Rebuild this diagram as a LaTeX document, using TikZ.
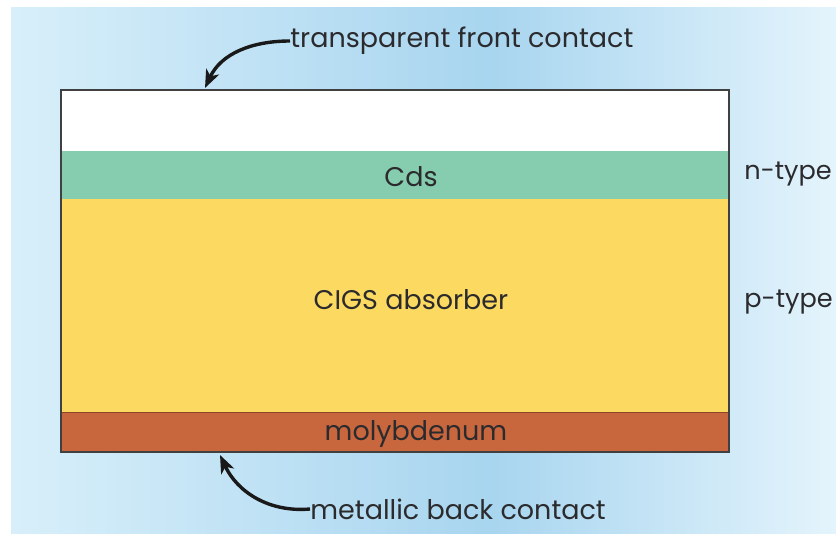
\documentclass[tikz,border=0pt]{standalone}
\usepackage{fontspec}
\setmainfont{Poppins}
\usetikzlibrary{arrows.meta}

\definecolor{skylight}{HTML}{D8EFFA}
\definecolor{skydark}{HTML}{A8D5EF}
\definecolor{skyedge}{HTML}{E4F4FC}
\definecolor{cdsgreen}{HTML}{86CDAF}
\definecolor{cigsyellow}{HTML}{FCD960}
\definecolor{molyorange}{HTML}{C8663E}
\definecolor{inkgray}{HTML}{2B2B2E}

\begin{document}
\begin{tikzpicture}
[x=0.5pt,y=-0.5pt]
\tikzset{layer/.style={rectangle,inner sep=0pt,minimum width=334pt}}
\tikzset{label/.style={inner sep=0pt,text=inkgray,font=\fontsize{13.5}{16}\selectfont}}
\tikzset{sidelabel/.style={label,anchor=west,font=\fontsize{12.8}{15}\selectfont}}
\tikzset{pointer/.style={line width=1.7pt,black!90,-{Stealth[length=9pt,width=7pt,inset=2.5pt]}}}

\useasboundingbox (0,0) rectangle (836,534);
\fill[white] (0,0) rectangle (836,534);
\shade[left color=skylight,right color=skydark] (11,8) rectangle (490,534);
\shade[left color=skydark,right color=skyedge] (490,8) rectangle (836,534);

\node [layer,fill=white,minimum height=30.5pt] (front) at (395,120.5) {};
\node [layer,fill=cdsgreen,minimum height=24pt] (cds) at (395,175) {};
\node [layer,fill=cigsyellow,minimum height=106.5pt] (cigs) at (395,305.5) {};
\node [layer,fill=molyorange,minimum height=20pt] (moly) at (395,432) {};
\draw [molyorange!70!black,line width=0.6pt] (cigs.south west) -- (cigs.south east);
\draw [black!75,line width=1pt] (front.north west) rectangle (moly.south east);

\node [label] (cdstext) at (411,177) {Cds};
\node [label] (cigstext) at (411,300) {CIGS absorber};
\node [label] (molytext) at (416,434) {molybdenum};

\node [sidelabel] (ntype) at (744,174) {n-type};
\node [sidelabel] (ptype) at (744,302) {p-type};

\node [label,anchor=west] (fronttext) at (290,41) {transparent front contact};
\node [label,anchor=west] (backtext) at (310,509) {metallic back contact};
\coordinate (fronttip) at (205,88);
\coordinate (backtip) at (220,455);

\draw [pointer] (fronttext.west) to[out=180,in=65] (fronttip);
\draw [pointer] (backtext.west) to[out=185,in=-65] (backtip);

\end{tikzpicture}
\end{document}
